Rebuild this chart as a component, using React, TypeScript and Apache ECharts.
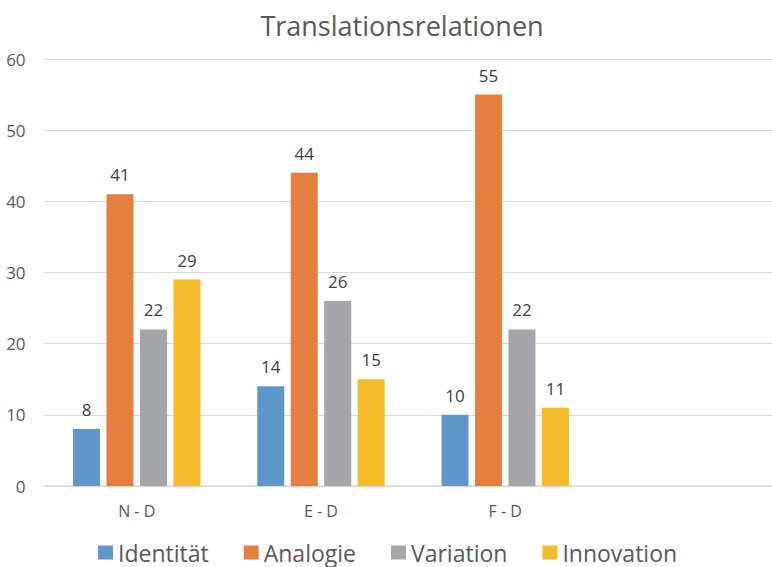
import React, { useEffect, useRef } from "react";
import * as echarts from "echarts";

const categories = ["N - D", "E - D", "F - D", ""];
const seriesNames = ["Identität", "Analogie", "Variation", "Innovation"];
const identitaet = [8, 14, 10, null];
const analogie = [41, 44, 55, null];
const variation = [22, 26, 22, null];
const innovation = [29, 15, 11, null];
const yTicks = { min: 0, max: 60, interval: 10 };
const colors = ["#6097CB", "#E57F40", "#A5A6A9", "#F5BC2A"];

export default function App() {
  const ref = useRef<HTMLDivElement>(null);
  useEffect(() => {
    if (!ref.current) return;
    const chart = echarts.init(ref.current, undefined, { renderer: "svg" });
    const font = "'Open Sans', 'Noto Sans', sans-serif";
    const data = [identitaet, analogie, variation, innovation];
    chart.setOption({
      animation: false,
      textStyle: { fontFamily: font },
      title: {
        text: "Translationsrelationen",
        left: 397,
        top: 7,
        textAlign: "center",
        textStyle: { fontSize: 27, fontWeight: "normal", color: "#595959", fontFamily: font },
      },
      legend: {
        top: 541,
        left: 98,
        padding: 0,
        itemWidth: 15,
        itemHeight: 14,
        itemGap: 35,
        icon: "rect",
        textStyle: { fontSize: 23, color: "#595959", fontFamily: font },
        data: seriesNames,
      },
      grid: { left: 44.6, top: 59, bottom: 81, width: 737, containLabel: false },
      xAxis: {
        type: "category",
        data: categories,
        axisLine: { lineStyle: { color: "#d9d9d9", width: 1.5 } },
        axisTick: { show: false },
        axisLabel: { fontSize: 16, color: "#595959", margin: 17 },
      },
      yAxis: {
        type: "value",
        min: yTicks.min,
        max: yTicks.max,
        interval: yTicks.interval,
        axisLine: { show: false },
        axisTick: { show: false },
        axisLabel: { fontSize: 17, color: "#595959", margin: 19 },
        splitLine: { lineStyle: { color: "#d9d9d9", width: 1.2 } },
      },
      series: seriesNames.map((name, i) => ({
        name,
        type: "bar",
        data: data[i],
        barWidth: 27,
        barGap: "24%",
        itemStyle: { color: colors[i] },
        label: {
          show: true,
          position: "top",
          distance: 11,
          fontSize: 17,
          color: "#404040",
          fontFamily: font,
        },
      })),
    });
    return () => chart.dispose();
  }, []);
  return (
    <div style={{ position: "fixed", left: 0, top: 0, width: 772, height: 567, overflow: "hidden", background: "#fff" }}>
      <div ref={ref} style={{ width: 800, height: 567 }} />
    </div>
  );
}
